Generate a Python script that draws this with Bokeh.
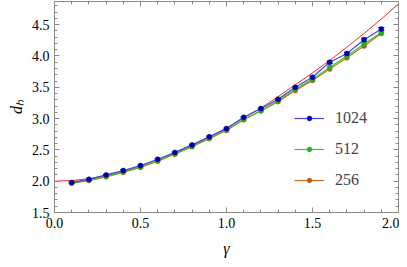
from bokeh.plotting import figure
from bokeh.models import (LinearAxis, Range1d, FixedTicker, Legend, LegendItem,
                          NumeralTickFormatter, CustomJSTickFormatter, Whisker,
                          ColumnDataSource)
from bokeh.embed import file_html
from bokeh.resources import INLINE

# data
gamma = [0.1, 0.2, 0.3, 0.4, 0.5, 0.6, 0.7, 0.8, 0.9, 1.0,
         1.1, 1.2, 1.3, 1.4, 1.5, 1.6, 1.7, 1.8, 1.9]
d1024 = [1.98, 2.03, 2.10, 2.17, 2.25, 2.35, 2.46, 2.58, 2.71, 2.84,
         3.02, 3.16, 3.31, 3.50, 3.66, 3.90, 4.04, 4.26, 4.43]
err1024 = [0.01, 0.01, 0.01, 0.01, 0.01, 0.01, 0.01, 0.01, 0.01, 0.01,
           0.01, 0.01, 0.01, 0.015, 0.015, 0.02, 0.02, 0.025, 0.025]
d512 = [1.97, 2.02, 2.08, 2.15, 2.23, 2.33, 2.44, 2.56, 2.69, 2.82,
        2.99, 3.13, 3.29, 3.47, 3.63, 3.82, 4.00, 4.19, 4.38]
d256 = [1.97, 2.01, 2.07, 2.14, 2.22, 2.32, 2.43, 2.55, 2.68, 2.81,
        2.98, 3.12, 3.27, 3.45, 3.61, 3.79, 3.97, 4.16, 4.36]
gamma_theory = [0.0, 0.1, 0.2, 0.3, 0.4, 0.5, 0.6, 0.7, 0.8, 0.9, 1.0,
                1.1, 1.2, 1.3, 1.4, 1.5, 1.6, 1.7, 1.8, 1.9, 2.0]
d_theory = [2.00, 2.01, 2.04, 2.09, 2.15, 2.24, 2.33, 2.45, 2.57, 2.71, 2.85,
            3.01, 3.17, 3.35, 3.54, 3.73, 3.93, 4.14, 4.36, 4.59, 4.83]
series_labels = ["1024", "512", "256"]
x_major = [0.0, 0.5, 1.0, 1.5, 2.0]
y_major = [1.5, 2.0, 2.5, 3.0, 3.5, 4.0, 4.5]

FONT = "Liberation Serif"
AX = "#8a8a8a"

p = figure(width=399, height=259, x_range=Range1d(0, 2), y_range=Range1d(1.5, 4.87),
           output_backend="svg", toolbar_location=None,
           min_border_left=54, min_border_right=1, min_border_top=1, min_border_bottom=46)
p.xgrid.visible = False
p.ygrid.visible = False
p.outline_line_color = AX
p.background_fill_color = "white"

x_minor = [i / 10 for i in range(0, 21)]
y_minor = [1.5 + i / 10 for i in range(0, 34)]

def style(ax, ticks, minor, labels=True):
    ax.ticker = FixedTicker(ticks=ticks, minor_ticks=minor)
    ax.axis_line_color = AX
    ax.major_tick_line_color = AX
    ax.minor_tick_line_color = AX
    ax.major_tick_in = 5
    ax.major_tick_out = 0
    ax.minor_tick_in = 3
    ax.minor_tick_out = 0
    ax.major_label_text_font = FONT
    ax.major_label_text_font_size = "14px"
    ax.major_label_text_color = "black"
    if labels:
        ax.formatter = NumeralTickFormatter(format="0.0")
    else:
        ax.formatter = CustomJSTickFormatter(code="return ''")
        ax.major_label_standoff = 0
        ax.major_label_text_font_size = "0px"

style(p.xaxis[0], x_major, x_minor)
style(p.yaxis[0], y_major, y_minor)
p.xaxis[0].major_label_standoff = 5
p.yaxis[0].major_label_standoff = 5

p.xaxis[0].axis_label = "γ"
p.yaxis[0].axis_label = "dₕ"
for ax in (p.xaxis[0], p.yaxis[0]):
    ax.axis_label_text_font = FONT
    ax.axis_label_text_font_style = "italic"
    ax.axis_label_text_font_size = "16px"
    ax.axis_label_text_color = "black"
p.xaxis[0].axis_label_standoff = 9
p.yaxis[0].axis_label_standoff = 4

top = LinearAxis()
style(top, x_major, x_minor, labels=False)
p.add_layout(top, "above")
right = LinearAxis()
style(right, y_major, y_minor, labels=False)
p.add_layout(right, "right")

# theory curve
p.line(gamma_theory, d_theory, line_color="#ff2222", line_width=1)

colors_line = ["#4646e6", "#33cc33", "#cc6d1f"]
colors_mark = ["#0000a8", "#1db31d", "#b85c12"]
data = [d1024, d512, d256]

rend = {}
for lab, ys, cl, cm in reversed(list(zip(series_labels, data, colors_line, colors_mark))):
    r1 = p.line(gamma, ys, line_color=cl, line_width=1.2)
    r2 = p.scatter(gamma, ys, size=5, fill_color=cm, line_color=cm, line_width=0.5)
    rend[lab] = [r1, r2]
    if lab == "1024":
        src = ColumnDataSource(dict(x=gamma,
                                    lo=[a - e for a, e in zip(ys, err1024)],
                                    hi=[a + e for a, e in zip(ys, err1024)]))
        w = Whisker(base="x", lower="lo", upper="hi", source=src,
                    line_color=cm, line_width=1)
        w.upper_head.size = 6
        w.lower_head.size = 6
        w.upper_head.line_color = cm
        w.lower_head.line_color = cm
        p.add_layout(w)

items = [LegendItem(label=lab, renderers=rend[lab]) for lab in series_labels]

legend = Legend(items=items, location=(240, 22), orientation="vertical",
                glyph_width=30, glyph_height=12, label_height=20, spacing=11,
                padding=0, margin=0, label_standoff=11,
                background_fill_alpha=0, border_line_alpha=0,
                label_text_font=FONT, label_text_font_size="16px")
p.add_layout(legend, "center")

open("out.html", "w").write(file_html(p, INLINE))
